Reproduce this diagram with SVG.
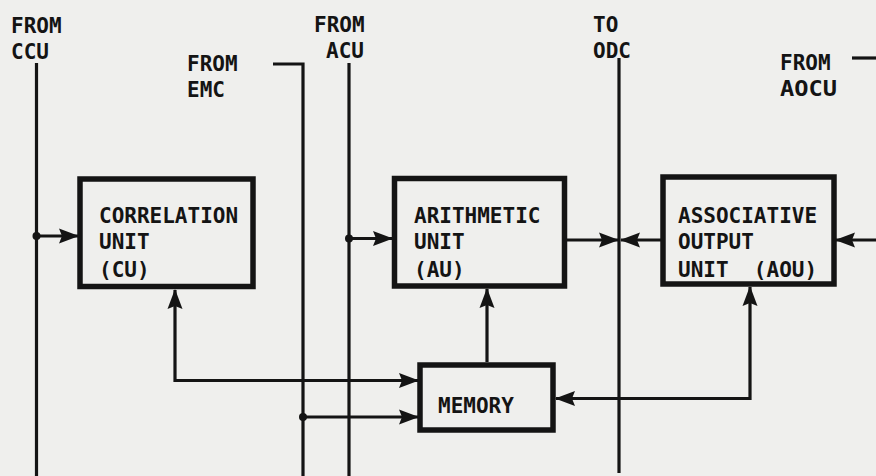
<svg xmlns="http://www.w3.org/2000/svg" width="876" height="476" viewBox="0 0 876 476">
<style>
.lbl{font-family:"DejaVu Sans Mono","Liberation Mono",monospace;font-weight:bold;font-size:21px;fill:#141414;white-space:pre}
.box{fill:none;stroke:#141414;stroke-width:5.5}
.wire{fill:none;stroke:#141414;stroke-width:3.2}
.dot{fill:#141414}
</style>
<defs>
<marker id="ah" markerUnits="userSpaceOnUse" viewBox="0 0 20 16" markerWidth="20" markerHeight="16" refX="19" refY="8" orient="auto-start-reverse">
<path d="M0,0.5 L20,8 L0,15.5 L3,8 z" fill="#141414"/>
</marker>
</defs>
<rect width="876" height="476" fill="#efefed"/>

<g id="connectors">
<path class="wire" d="M36.5,63 V476"/>
<path class="wire" d="M273,64 H303 V476"/>
<path class="wire" d="M349,63 V476"/>
<path class="wire" d="M619,58 V473"/>
<path class="wire" d="M852,58 H876"/>
<path class="wire" d="M36.5,236 H78" marker-end="url(#ah)"/>
<path class="wire" d="M349,238.5 H392" marker-end="url(#ah)"/>
<path class="wire" d="M567,240 H618" marker-end="url(#ah)"/>
<path class="wire" d="M661,240 H621" marker-end="url(#ah)"/>
<path class="wire" d="M876,240 H836" marker-end="url(#ah)"/>
<path class="wire" d="M175,290 V380.5 H418" marker-start="url(#ah)" marker-end="url(#ah)"/>
<path class="wire" d="M303,417 H418" marker-end="url(#ah)"/>
<path class="wire" d="M487,362 V289" marker-end="url(#ah)"/>
<path class="wire" d="M556,398.5 H750 V287" marker-start="url(#ah)" marker-end="url(#ah)"/>
<circle class="dot" cx="36.5" cy="236" r="4"/>
<circle class="dot" cx="349" cy="238.5" r="4"/>
<circle class="dot" cx="303" cy="417" r="4"/>
</g>

<g id="from-ccu">
<text class="lbl" x="11" y="33">FROM</text>
<text class="lbl" x="11" y="59">CCU</text>
</g>
<g id="from-emc">
<text class="lbl" x="187" y="71">FROM</text>
<text class="lbl" x="187" y="97">EMC</text>
</g>
<g id="from-acu">
<text class="lbl" x="314" y="32">FROM</text>
<text class="lbl" x="326" y="58">ACU</text>
</g>
<g id="to-odc">
<text class="lbl" x="593" y="32">TO</text>
<text class="lbl" x="593" y="58">ODC</text>
</g>
<g id="from-aocu">
<text class="lbl" x="780" y="70">FROM</text>
<text class="lbl" x="780" y="96" textLength="57" lengthAdjust="spacingAndGlyphs">AOCU</text>
</g>

<g id="cu">
<rect class="box" x="80" y="179" width="173" height="107.5"/>
<text class="lbl" x="99" y="223">CORRELATION</text>
<text class="lbl" x="99" y="249">UNIT</text>
<text class="lbl" x="99" y="277">(CU)</text>
</g>
<g id="au">
<rect class="box" x="394.5" y="178.5" width="170" height="107.5"/>
<text class="lbl" x="414" y="223">ARITHMETIC</text>
<text class="lbl" x="414" y="249">UNIT</text>
<text class="lbl" x="414" y="277">(AU)</text>
</g>
<g id="aou">
<rect class="box" x="663" y="177" width="171" height="107"/>
<text class="lbl" x="678" y="223">ASSOCIATIVE</text>
<text class="lbl" x="678" y="249">OUTPUT</text>
<text class="lbl" x="678" y="277">UNIT  (AOU)</text>
</g>
<g id="memory">
<rect class="box" x="420" y="365" width="133" height="65"/>
<text class="lbl" x="438" y="413">MEMORY</text>
</g>
</svg>
